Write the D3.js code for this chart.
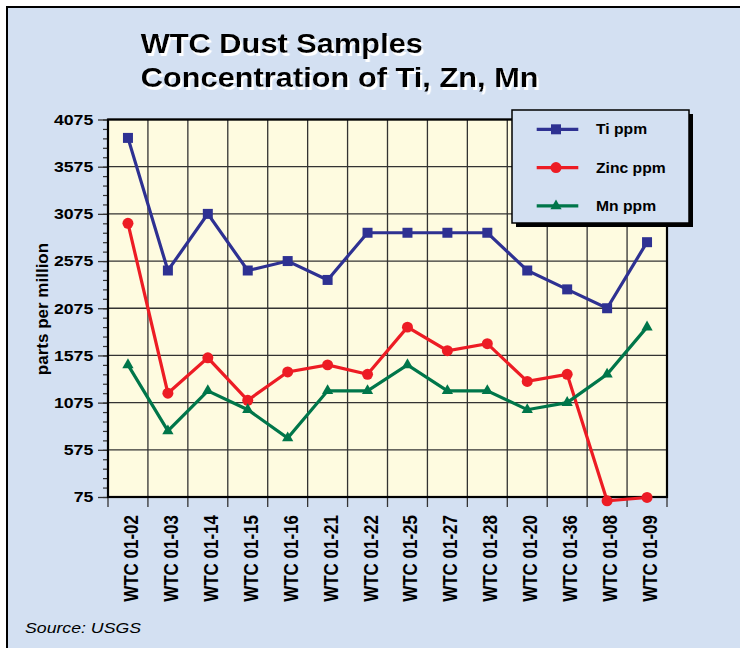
<!DOCTYPE html>
<html>
<head>
<meta charset="utf-8">
<script src="https://cdn.jsdelivr.net/npm/d3@7"></script>
<style>
  body { margin: 0; background: #fff; }
  text { font-family: "Liberation Sans", Arial, sans-serif; }
</style>
</head>
<body>
<div id="chart"></div>
<script>
// sample ids along the x axis
const samples = ['WTC 01-02', 'WTC 01-03', 'WTC 01-14', 'WTC 01-15', 'WTC 01-16', 'WTC 01-21', 'WTC 01-22',
  'WTC 01-25', 'WTC 01-27', 'WTC 01-28', 'WTC 01-20', 'WTC 01-36', 'WTC 01-08', 'WTC 01-09'];

// values (ppm)
const tiPpm = [3880, 2475, 3075, 2475, 2575, 2375, 2875, 2875, 2875, 2875, 2475, 2275, 2075, 2775];
const zincPpm = [2975, 1175, 1550, 1100, 1400, 1475, 1375, 1875, 1625, 1700, 1300, 1375, 35, 70];
const mnPpm = [1475, 775, 1200, 1000, 700, 1200, 1200, 1475, 1200, 1200, 1000, 1075, 1375, 1875];

const majorTicks = [75, 575, 1075, 1575, 2075, 2575, 3075, 3575, 4075];
const minorTicks = d3.range(75, 4076, 100);

const seriesNames = ['Ti ppm', 'Zinc ppm', 'Mn ppm'];

const width = 740;
const height = 648;
const plot = { left: 108, right: 667, top: 119.5, bottom: 497 };

const series = [
  { name: seriesNames[0], values: tiPpm, color: '#2e3192', symbol: d3.symbolSquare, size: 100 },
  { name: seriesNames[1], values: zincPpm, color: '#ed1c24', symbol: d3.symbolCircle, size: 95 },
  { name: seriesNames[2], values: mnPpm, color: '#00764a', symbol: d3.symbolTriangle, size: 55 }
];

const svg = d3.select('#chart')
  .append('svg')
  .attr('width', width)
  .attr('height', height);

// white drop shadow for the title
svg.append('defs')
  .append('filter')
  .attr('id', 'shadow')
  .attr('x', '-5%').attr('y', '-20%')
  .attr('width', '120%').attr('height', '150%')
  .append('feDropShadow')
  .attr('dx', 2).attr('dy', 3)
  .attr('stdDeviation', 0)
  .attr('flood-color', '#fff')
  .attr('flood-opacity', 1);

// outer panel
svg.append('rect')
  .attr('x', 7).attr('y', 7)
  .attr('width', width + 10).attr('height', height + 10)
  .attr('fill', '#d3e0f2')
  .attr('stroke', '#000')
  .attr('stroke-width', 2);

// scales
const x = d3.scaleBand()
  .domain(samples)
  .range([plot.left, plot.right])
  .padding(0);

const y = d3.scaleLinear()
  .domain([75, 4075])
  .range([plot.bottom, plot.top]);

// plot background
svg.append('rect')
  .attr('x', plot.left).attr('y', plot.top)
  .attr('width', plot.right - plot.left).attr('height', plot.bottom - plot.top)
  .attr('fill', '#fefbe0');

// grid
const grid = svg.append('g').attr('stroke', '#333').attr('stroke-width', 1.3);
grid.selectAll('line.h')
  .data(majorTicks)
  .join('line')
  .attr('x1', plot.left).attr('x2', plot.right)
  .attr('y1', (d) => y(d)).attr('y2', (d) => y(d));

const bounds = samples.map((d) => x(d)).concat([x(samples[samples.length - 1]) + x.bandwidth()]);
grid.selectAll('line.v')
  .data(bounds)
  .join('line')
  .attr('x1', (d) => d).attr('x2', (d) => d)
  .attr('y1', plot.top).attr('y2', plot.bottom);

// x ticks below the plot
svg.append('g')
  .attr('stroke', '#333').attr('stroke-width', 1.3)
  .selectAll('line')
  .data(bounds)
  .join('line')
  .attr('x1', (d) => d).attr('x2', (d) => d)
  .attr('y1', plot.bottom).attr('y2', plot.bottom + 10);

// y axis minor + major ticks
svg.append('g')
  .attr('transform', `translate(${plot.left},0)`)
  .call(d3.axisLeft(y).tickValues(minorTicks).tickSize(5).tickFormat(''))
  .call((g) => g.select('.domain').remove())
  .call((g) => g.selectAll('line').attr('stroke', '#333').attr('stroke-width', 1.2));

svg.append('g')
  .attr('transform', `translate(${plot.left},0)`)
  .call(d3.axisLeft(y).tickValues(majorTicks).tickSize(10).tickPadding(0).tickFormat(d3.format('d')))
  .call((g) => g.select('.domain').remove())
  .call((g) => g.selectAll('line').attr('stroke', '#333').attr('stroke-width', 1.3))
  .call((g) => g.selectAll('text')
    .attr('x', -14.7 / 1.18)
    .attr('transform', 'scale(1.18,1)')
    .attr('fill', '#000')
    .style('font-size', '15px')
    .style('font-weight', 'bold')
    .style('font-family', '"Liberation Sans", Arial, sans-serif'));

// plot border
svg.append('rect')
  .attr('x', plot.left).attr('y', plot.top)
  .attr('width', plot.right - plot.left).attr('height', plot.bottom - plot.top)
  .attr('fill', 'none')
  .attr('stroke', '#000')
  .attr('stroke-width', 2.2);

// x labels, rotated
svg.append('g')
  .selectAll('text')
  .data(samples)
  .join('text')
  .attr('transform', (d) => `translate(${x(d) + x.bandwidth() / 2 + 10},515) rotate(-90) scale(1,1.2)`)
  .attr('text-anchor', 'end')
  .style('font-size', '17px')
  .style('font-weight', 'bold')
  .text((d) => d);

// lines + markers
const line = d3.line()
  .x((d, i) => x(samples[i]) + x.bandwidth() / 2)
  .y((d) => y(d));

series.forEach((s) => {
  svg.append('path')
    .datum(s.values)
    .attr('fill', 'none')
    .attr('stroke', s.color)
    .attr('stroke-width', 3.2)
    .attr('stroke-linejoin', 'miter')
    .attr('d', line);

  svg.append('g')
    .selectAll('path')
    .data(s.values)
    .join('path')
    .attr('transform', (d, i) => `translate(${x(samples[i]) + x.bandwidth() / 2},${y(d)})`)
    .attr('d', d3.symbol().type(s.symbol).size(s.size))
    .attr('fill', s.color);
});

// legend
const legend = svg.append('g').attr('transform', 'translate(512,110)');
legend.append('rect')
  .attr('x', 4).attr('y', 4)
  .attr('width', 177).attr('height', 113)
  .attr('fill', '#000');
legend.append('rect')
  .attr('width', 177).attr('height', 113)
  .attr('fill', '#d3e0f2')
  .attr('stroke', '#000')
  .attr('stroke-width', 1.5);

series.forEach((s, i) => {
  const row = legend.append('g').attr('transform', `translate(0,${19.3 + i * 38.3})`);
  row.append('line')
    .attr('x1', 24.7).attr('x2', 66.3)
    .attr('stroke', s.color)
    .attr('stroke-width', 3.2);
  row.append('path')
    .attr('transform', 'translate(44,0)')
    .attr('d', d3.symbol().type(s.symbol).size(s.size))
    .attr('fill', s.color);
  row.append('text')
    .attr('transform', 'translate(84,5) scale(1.12,1)')
    .style('font-size', '14px')
    .style('font-weight', 'bold')
    .text(s.name);
});

// y title
svg.append('text')
  .attr('transform', 'translate(48,309) rotate(-90)')
  .attr('text-anchor', 'middle')
  .style('font-size', '17px')
  .style('font-weight', 'bold')
  .text('parts per million');

// title, white shadow through the filter
const titleLines = ['WTC Dust Samples', 'Concentration of Ti, Zn, Mn'];
titleLines.forEach((t, i) => {
  svg.append('text')
    .attr('transform', `translate(140.7,${53.3 + i * 33.4}) scale(1.1,1)`)
    .attr('fill', '#000')
    .attr('filter', 'url(#shadow)')
    .style('font-size', '28px')
    .style('font-weight', 'bold')
    .text(t);
});

// source note
svg.append('text')
  .attr('transform', 'translate(25,633.3) scale(1.18,1)')
  .style('font-size', '15px')
  .style('font-style', 'italic')
  .text('Source:  USGS');
</script>
</body>
</html>
